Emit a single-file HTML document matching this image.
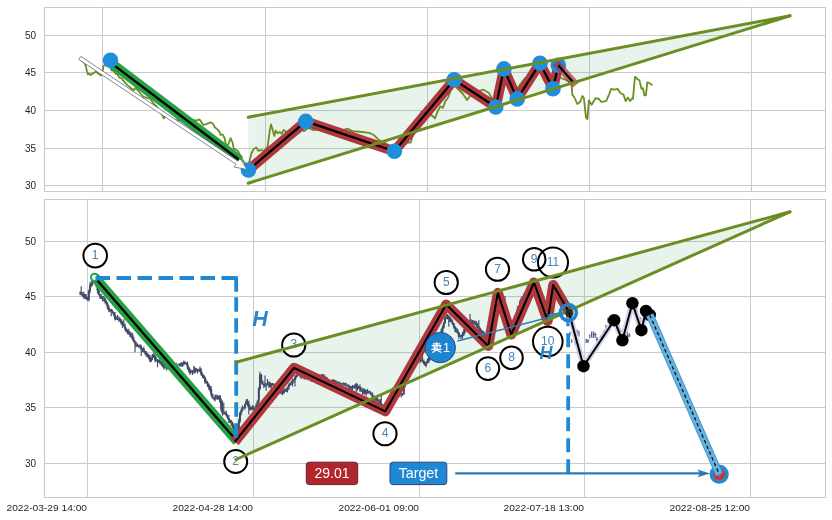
<!DOCTYPE html>
<html><head><meta charset="utf-8"><style>
html,body{margin:0;padding:0;background:#fff;}
svg{display:block;font-family:"Liberation Sans", sans-serif;filter:blur(0.35px);}
</style></head><body>
<svg width="832" height="520" viewBox="0 0 832 520">
<rect x="0" y="0" width="832" height="520" fill="#fff"/>
<rect x="44.5" y="7.5" width="781.0" height="184.0" fill="#fff" stroke="#c8c8c8" stroke-width="1"/>
<line x1="44.5" y1="35.5" x2="825.5" y2="35.5" stroke="#cbcbcb" stroke-width="1"/>
<line x1="44.5" y1="72.5" x2="825.5" y2="72.5" stroke="#cbcbcb" stroke-width="1"/>
<line x1="44.5" y1="110.5" x2="825.5" y2="110.5" stroke="#cbcbcb" stroke-width="1"/>
<line x1="44.5" y1="148.5" x2="825.5" y2="148.5" stroke="#cbcbcb" stroke-width="1"/>
<line x1="44.5" y1="185.5" x2="825.5" y2="185.5" stroke="#cbcbcb" stroke-width="1"/>
<line x1="102.50" y1="7.5" x2="102.50" y2="191.5" stroke="#cbcbcb" stroke-width="1"/>
<line x1="265.50" y1="7.5" x2="265.50" y2="191.5" stroke="#cbcbcb" stroke-width="1"/>
<line x1="427.50" y1="7.5" x2="427.50" y2="191.5" stroke="#cbcbcb" stroke-width="1"/>
<line x1="589.50" y1="7.5" x2="589.50" y2="191.5" stroke="#cbcbcb" stroke-width="1"/>
<line x1="751.50" y1="7.5" x2="751.50" y2="191.5" stroke="#cbcbcb" stroke-width="1"/>
<text x="36" y="39.1" text-anchor="end" font-size="10" fill="#262626">50</text>
<text x="36" y="76.1" text-anchor="end" font-size="10" fill="#262626">45</text>
<text x="36" y="114.1" text-anchor="end" font-size="10" fill="#262626">40</text>
<text x="36" y="152.1" text-anchor="end" font-size="10" fill="#262626">35</text>
<text x="36" y="189.1" text-anchor="end" font-size="10" fill="#262626">30</text>
<polygon points="248.20,117.20 790.00,15.80 248.20,183.20" fill="#3aa05a" fill-opacity="0.12"/>
<polyline points="79.30,59.10 81.70,60.60 84.10,62.50 85.60,65.40 87.00,71.20 88.00,74.50 89.40,73.60 90.90,75.00 92.30,73.60 94.20,72.60 96.20,71.60 98.10,73.60 99.50,74.50 101.00,75.50 102.40,74.00 102.90,69.20 103.40,66.30 104.30,65.40 107.00,64.00 110.00,64.40 111.00,69.20 112.00,70.70 113.50,70.70 115.40,73.60 117.30,74.00 118.80,76.90 120.20,77.90 122.10,78.80 123.10,80.80 124.50,81.70 126.00,83.70 127.90,85.60 129.80,87.00 131.70,88.90 133.80,90.10 135.80,87.70 139.60,92.50 143.50,96.80 147.30,97.80 150.70,99.20 153.00,103.00 157.00,107.00 160.00,112.00 162.70,115.60 163.70,118.50 166.00,116.00 170.00,118.00 175.00,120.00 180.00,120.50 186.00,120.00 192.50,120.00 196.30,120.60 199.40,119.40 201.30,121.90 203.10,125.00 206.90,123.80 210.60,122.30 213.10,123.80 215.00,127.50 217.50,129.40 219.40,131.90 220.60,135.00 222.50,134.40 224.40,137.50 226.30,146.30 228.10,145.00 230.60,138.10 232.50,142.50 233.80,148.80 235.60,149.40 238.10,151.30 240.00,155.00 242.50,160.00 245.00,163.00 247.00,166.00 249.40,161.50 251.40,153.50 253.50,149.40 256.20,147.40 258.20,150.80 260.90,150.10 264.20,150.80 267.60,146.70 269.60,131.90 271.00,124.50 272.30,128.60 274.30,136.00 275.70,130.60 277.70,133.30 279.70,131.90 281.70,133.90 283.70,129.90 288.00,133.00 293.80,136.00 296.50,134.60 299.20,132.60 301.90,129.90 303.90,131.20 308.00,128.00 313.00,130.00 320.00,129.50 330.60,130.00 340.30,131.00 347.30,128.60 352.40,131.10 362.40,132.00 369.20,132.80 374.20,135.30 379.30,140.40 385.00,143.00 394.10,149.70 398.00,144.00 402.00,139.30 405.90,142.60 410.80,142.60 413.70,132.50 418.60,125.80 421.10,112.00 426.00,116.00 431.50,115.00 435.00,118.40 437.60,111.50 440.20,106.30 442.80,108.00 445.40,101.10 448.00,97.70 450.60,90.80 454.00,85.00 457.00,88.00 460.00,91.00 463.00,94.00 467.00,100.00 471.00,95.00 476.00,92.00 483.10,89.60 488.90,93.10 493.00,100.00 496.00,103.00 499.00,90.00 502.00,75.00 506.00,80.00 510.00,90.00 514.00,95.00 519.00,86.00 525.00,78.00 530.00,76.00 535.00,73.00 540.00,70.00 544.00,80.00 548.00,84.00 551.00,80.00 554.00,72.00 557.00,75.00 561.00,78.00 566.00,80.00 571.50,83.10 572.30,94.60 574.40,97.50 577.30,104.00 580.20,101.80 582.40,96.00 583.80,97.50 586.00,117.70 587.40,119.20 588.90,100.40 591.70,104.70 595.40,98.20 599.00,99.00 601.10,101.80 606.20,101.10 609.00,94.60 611.20,88.90 614.10,89.60 617.70,88.90 620.60,93.20 623.50,94.60 625.70,101.10 627.80,97.50 630.00,101.10 632.20,98.20 632.90,99.00 635.00,76.60 637.90,79.50 639.40,80.20 641.50,88.90 643.00,88.10 644.40,95.40 645.90,95.40 647.30,82.40 649.50,83.10 652.40,85.30" fill="none" stroke="#6b8e23" stroke-width="1.8" stroke-linejoin="round"/>
<line x1="110.5" y1="62.6" x2="240" y2="160.5" stroke="#26a245" stroke-width="9.8"/>
<line x1="110.5" y1="62.6" x2="240" y2="160.5" stroke="#000" stroke-width="2.2"/>
<polyline points="248.40,170.00 305.80,121.40 394.40,151.30 454.20,79.80 495.80,107.00 503.90,68.90 517.20,98.90 540.00,63.30 553.00,88.80 558.30,65.30" fill="none" stroke="#ae383d" stroke-width="10" stroke-linejoin="round"/>
<polyline points="248.40,170.00 305.80,121.40 394.40,151.30 454.20,79.80 495.80,107.00 503.90,68.90 517.20,98.90 540.00,63.30 553.00,88.80 558.30,65.30" fill="none" stroke="#000" stroke-width="2.2" stroke-linejoin="round"/>
<circle cx="110.5" cy="60.2" r="7.8" fill="#1f8edb"/>
<circle cx="248.4" cy="170" r="7.8" fill="#1f8edb"/>
<circle cx="305.8" cy="121.4" r="7.8" fill="#1f8edb"/>
<circle cx="394.4" cy="151.3" r="7.8" fill="#1f8edb"/>
<circle cx="454.2" cy="79.8" r="7.8" fill="#1f8edb"/>
<circle cx="495.8" cy="107" r="7.8" fill="#1f8edb"/>
<circle cx="503.9" cy="68.9" r="7.8" fill="#1f8edb"/>
<circle cx="517.2" cy="98.9" r="7.8" fill="#1f8edb"/>
<circle cx="540" cy="63.3" r="7.8" fill="#1f8edb"/>
<circle cx="553" cy="88.8" r="7.8" fill="#1f8edb"/>
<circle cx="558.3" cy="65.3" r="7.8" fill="#1f8edb"/>
<line x1="558.3" y1="65.3" x2="573.2" y2="82.2" stroke="#ae383d" stroke-opacity="0.72" stroke-width="8" stroke-linecap="square"/>
<line x1="558.3" y1="65.3" x2="573.2" y2="82.2" stroke="#000" stroke-width="2.2"/>
<polygon points="78.80,59.40 236.02,164.24 234.13,167.07 247.00,169.40 239.90,158.42 238.01,161.24 80.80,56.40" fill="#fff" stroke="#5a6070" stroke-width="0.75" stroke-linejoin="miter"/>
<line x1="248.2" y1="117.2" x2="790" y2="15.8" stroke="#6b8e23" stroke-width="3" stroke-linecap="round"/>
<line x1="248.2" y1="183.2" x2="790" y2="15.8" stroke="#6b8e23" stroke-width="3" stroke-linecap="round"/>
<rect x="44.5" y="199.5" width="781.0" height="298.0" fill="#fff" stroke="#c8c8c8" stroke-width="1"/>
<line x1="44.5" y1="241.5" x2="825.5" y2="241.5" stroke="#cbcbcb" stroke-width="1"/>
<line x1="44.5" y1="296.5" x2="825.5" y2="296.5" stroke="#cbcbcb" stroke-width="1"/>
<line x1="44.5" y1="352.5" x2="825.5" y2="352.5" stroke="#cbcbcb" stroke-width="1"/>
<line x1="44.5" y1="407.5" x2="825.5" y2="407.5" stroke="#cbcbcb" stroke-width="1"/>
<line x1="44.5" y1="463.5" x2="825.5" y2="463.5" stroke="#cbcbcb" stroke-width="1"/>
<line x1="87.50" y1="199.5" x2="87.50" y2="497.5" stroke="#cbcbcb" stroke-width="1"/>
<line x1="253.50" y1="199.5" x2="253.50" y2="497.5" stroke="#cbcbcb" stroke-width="1"/>
<line x1="419.50" y1="199.5" x2="419.50" y2="497.5" stroke="#cbcbcb" stroke-width="1"/>
<line x1="584.50" y1="199.5" x2="584.50" y2="497.5" stroke="#cbcbcb" stroke-width="1"/>
<line x1="750.50" y1="199.5" x2="750.50" y2="497.5" stroke="#cbcbcb" stroke-width="1"/>
<text x="36" y="245.1" text-anchor="end" font-size="10" fill="#262626">50</text>
<text x="36" y="300.1" text-anchor="end" font-size="10" fill="#262626">45</text>
<text x="36" y="356.1" text-anchor="end" font-size="10" fill="#262626">40</text>
<text x="36" y="411.1" text-anchor="end" font-size="10" fill="#262626">35</text>
<text x="36" y="467.1" text-anchor="end" font-size="10" fill="#262626">30</text>
<text x="6.5" y="510.9" font-size="9.7" textLength="80.5" lengthAdjust="spacingAndGlyphs" fill="#262626">2022-03-29 14:00</text>
<text x="172.5" y="510.9" font-size="9.7" textLength="80.5" lengthAdjust="spacingAndGlyphs" fill="#262626">2022-04-28 14:00</text>
<text x="338.5" y="510.9" font-size="9.7" textLength="80.5" lengthAdjust="spacingAndGlyphs" fill="#262626">2022-06-01 09:00</text>
<text x="503.5" y="510.9" font-size="9.7" textLength="80.5" lengthAdjust="spacingAndGlyphs" fill="#262626">2022-07-18 13:00</text>
<text x="669.5" y="510.9" font-size="9.7" textLength="80.5" lengthAdjust="spacingAndGlyphs" fill="#262626">2022-08-25 12:00</text>
<polygon points="236.00,362.20 790.00,211.80 236.00,459.50" fill="#3aa05a" fill-opacity="0.12"/>
<path d="M80.0,291.6V295.1 M81.2,286.2V295.6 M82.5,292.3V296.8 M83.8,291.4V299.1 M85.0,294.0V298.4 M86.2,294.1V299.6 M87.5,296.8V300.8 M88.8,289.5V301.4 M90.0,282.4V293.3 M91.2,281.0V287.2 M92.5,279.1V286.1 M93.8,276.7V283.0 M95.0,276.2V280.9 M96.2,275.6V287.3 M97.5,283.5V293.6 M98.8,288.4V295.2 M100.0,294.0V298.8 M101.2,293.7V299.1 M102.5,295.9V301.3 M103.8,295.9V301.5 M105.0,297.5V303.2 M106.2,300.0V305.2 M107.5,302.0V309.5 M108.8,305.0V312.3 M110.0,308.9V311.8 M111.2,308.8V316.2 M112.5,309.8V313.5 M113.8,311.8V316.3 M115.0,312.0V320.4 M116.2,316.6V319.9 M117.5,315.1V320.1 M118.8,316.5V321.9 M120.0,317.5V321.2 M121.2,319.0V324.6 M122.5,321.0V327.9 M123.8,319.3V326.8 M125.0,323.4V330.4 M126.2,327.4V332.6 M127.5,329.3V334.3 M128.8,328.8V334.7 M130.0,331.6V336.9 M131.2,332.5V338.1 M132.5,332.7V340.3 M133.8,336.8V342.6 M135.0,340.3V352.2 M136.2,341.7V347.3 M137.5,343.4V347.1 M138.8,344.8V347.8 M140.0,344.6V348.5 M141.2,344.8V356.1 M142.5,348.0V352.0 M143.8,346.7V352.7 M145.0,350.7V354.8 M146.2,351.1V356.7 M147.5,352.8V357.6 M148.8,354.0V359.6 M150.0,355.0V362.3 M151.2,357.1V361.9 M152.5,354.0V360.1 M153.8,352.4V357.9 M155.0,354.7V362.3 M156.2,356.8V361.6 M157.5,359.0V367.2 M158.8,359.5V362.9 M160.0,358.6V364.2 M161.2,361.1V365.7 M162.5,360.5V367.3 M163.8,362.8V369.5 M165.0,365.7V368.2 M166.2,366.9V370.3 M167.5,365.0V369.5 M168.8,363.3V367.5 M170.0,363.6V366.4 M171.2,362.9V370.3 M172.5,362.2V367.2 M173.8,363.8V369.9 M175.0,365.5V369.1 M176.2,362.7V369.3 M177.5,364.4V366.1 M178.8,363.6V365.8 M180.0,363.3V366.6 M181.2,361.9V366.7 M182.5,362.4V367.1 M183.8,360.5V365.8 M185.0,361.5V364.2 M186.2,362.5V365.1 M187.5,361.5V369.7 M188.8,366.3V372.4 M190.0,368.8V375.0 M191.2,369.9V373.3 M192.5,369.9V375.1 M193.8,365.8V373.6 M195.0,367.2V373.7 M196.2,368.1V371.8 M197.5,368.7V373.4 M198.8,368.8V371.7 M200.0,366.6V372.5 M201.2,368.3V375.9 M202.5,372.7V378.0 M203.8,375.0V379.0 M205.0,376.6V383.8 M206.2,379.3V383.5 M207.5,380.9V386.9 M208.8,383.4V390.1 M210.0,385.4V391.8 M211.2,386.2V396.5 M212.5,393.6V398.8 M213.8,397.4V400.3 M215.0,394.8V401.5 M216.2,394.4V399.5 M217.5,395.3V399.7 M218.8,395.5V399.8 M220.0,395.1V403.0 M221.2,398.5V412.1 M222.5,400.4V415.8 M223.8,402.7V414.7 M225.0,411.6V414.6 M226.2,410.8V416.4 M227.5,414.3V418.9 M228.8,415.1V423.1 M230.0,419.4V422.9 M231.2,419.7V426.1 M232.5,421.5V427.9 M233.8,423.5V431.0 M235.0,429.1V437.3 M236.2,430.7V441.8 M237.5,427.1V439.8 M238.8,418.6V432.5 M240.0,411.9V423.0 M241.2,408.4V415.2 M242.5,405.2V411.6 M243.8,406.8V408.7 M245.0,403.5V409.4 M246.2,399.2V404.7 M247.5,399.1V406.3 M248.8,400.7V414.4 M250.0,405.6V410.3 M251.2,406.8V410.5 M252.5,404.9V409.8 M253.8,406.1V413.1 M255.0,409.3V413.7 M256.2,403.5V412.9 M257.5,400.3V407.9 M258.8,387.1V404.1 M260.0,371.7V389.9 M261.2,373.9V383.4 M262.5,380.3V384.7 M263.8,383.4V388.1 M265.0,375.6V386.8 M266.2,383.0V390.8 M267.5,379.0V385.5 M268.8,381.4V387.7 M270.0,381.7V387.5 M271.2,383.0V388.8 M272.5,382.9V385.7 M273.8,383.2V386.5 M275.0,384.5V389.6 M276.2,385.1V389.7 M277.5,387.7V391.1 M278.8,388.7V392.0 M280.0,386.3V393.8 M281.2,390.2V394.3 M282.5,390.2V395.2 M283.8,387.5V394.1 M285.0,389.1V391.8 M286.2,388.0V392.0 M287.5,386.4V392.4 M288.8,383.4V390.1 M290.0,382.4V385.9 M291.2,380.7V385.1 M292.5,378.3V386.4 M293.8,379.1V382.2 M295.0,375.3V386.5 M296.2,375.1V378.5 M297.5,372.5V376.8 M298.8,372.4V374.5 M300.0,372.3V377.2 M301.2,372.8V379.1 M302.5,374.1V378.1 M303.8,374.5V379.3 M305.0,376.5V379.7 M306.2,374.7V378.4 M307.5,375.0V380.2 M308.8,374.4V379.9 M310.0,377.2V380.1 M311.2,376.9V382.0 M312.5,375.2V381.6 M313.8,374.9V378.5 M315.0,373.9V379.1 M316.2,375.6V380.1 M317.5,374.6V378.8 M318.8,373.9V383.7 M320.0,374.9V378.4 M321.2,374.1V376.7 M322.5,374.2V378.1 M323.8,373.9V379.4 M325.0,375.6V381.9 M326.2,376.7V383.8 M327.5,377.6V384.0 M328.8,379.8V383.9 M330.0,381.4V385.7 M331.2,382.0V384.3 M332.5,379.2V383.9 M333.8,379.2V384.9 M335.0,380.0V385.1 M336.2,380.6V385.6 M337.5,381.5V385.9 M338.8,381.3V384.2 M340.0,382.2V386.1 M341.2,382.7V384.7 M342.5,382.7V386.6 M343.8,382.3V385.4 M345.0,383.0V385.9 M346.2,382.8V387.0 M347.5,384.5V386.5 M348.8,384.2V388.8 M350.0,385.8V389.7 M351.2,386.1V390.2 M352.5,385.1V393.3 M353.8,385.4V388.6 M355.0,383.9V388.5 M356.2,382.8V395.3 M357.5,383.8V390.8 M358.8,386.1V389.0 M360.0,384.6V391.9 M361.2,387.0V391.4 M362.5,388.4V394.4 M363.8,388.0V394.6 M365.0,389.1V394.2 M366.2,390.0V396.1 M367.5,389.1V393.8 M368.8,390.5V393.8 M370.0,391.0V393.7 M371.2,392.4V395.4 M372.5,392.5V398.6 M373.8,395.3V401.7 M375.0,396.1V400.8 M376.2,395.5V402.6 M377.5,396.9V401.8 M378.8,399.7V402.9 M380.0,399.0V404.5 M381.2,395.0V407.2 M382.5,403.8V409.2 M383.8,406.2V414.5 M385.0,405.2V409.3 M386.2,404.8V410.5 M387.5,398.2V407.0 M388.8,397.8V403.1 M390.0,394.1V400.7 M391.2,390.5V401.1 M392.5,387.5V394.9 M393.8,388.5V392.1 M395.0,388.8V394.3 M396.2,390.6V395.5 M397.5,393.7V396.9 M398.8,392.8V397.5 M400.0,392.8V395.4 M401.2,393.0V397.4 M402.5,393.1V395.9 M403.8,385.4V394.9 M405.0,377.6V387.5 M406.2,376.8V381.2 M407.5,374.8V380.9 M408.8,371.8V377.9 M410.0,370.7V376.5 M411.2,364.5V374.4 M412.5,356.8V368.5 M413.8,351.4V361.3 M415.0,352.1V356.9 M416.2,351.9V355.9 M417.5,352.5V359.9 M418.8,355.8V360.7 M420.0,357.3V362.9 M421.2,357.7V361.7 M422.5,354.2V362.4 M423.8,359.5V364.6 M425.0,361.7V365.9 M426.2,361.8V367.3 M427.5,358.6V363.6 M428.8,355.7V363.1 M430.0,354.3V360.8 M431.2,350.4V356.3 M432.5,346.2V353.0 M433.8,345.9V350.6 M435.0,343.7V348.1 M436.2,342.5V351.9 M437.5,339.2V344.5 M438.8,334.3V342.7 M440.0,335.0V339.4 M441.2,328.7V338.3 M442.5,325.6V333.8 M443.8,321.8V328.5 M445.0,316.7V323.8 M446.2,314.2V318.9 M447.5,313.9V319.5 M448.8,315.3V326.8 M450.0,316.5V321.9 M451.2,317.8V322.6 M452.5,319.4V325.1 M453.8,322.7V328.6 M455.0,325.8V331.9 M456.2,327.5V332.8 M457.5,328.5V333.7 M458.8,331.9V338.7 M460.0,335.1V337.2 M461.2,334.2V339.1 M462.5,332.3V338.6 M463.8,329.0V336.0 M465.0,328.5V333.6 M466.2,325.1V331.5 M467.5,323.9V328.9 M468.8,321.0V327.3 M470.0,314.1V326.9 M471.2,319.3V325.8 M472.5,319.9V324.9 M473.8,320.2V324.7 M475.0,320.8V324.7 M476.2,321.1V327.2 M477.5,322.8V328.5 M478.8,320.3V330.3 M480.0,327.3V332.2 M481.2,329.2V333.3 M482.5,330.5V333.8 M483.8,330.9V336.7 M485.0,332.7V340.3 M486.2,336.1V343.5 M487.5,338.3V345.4 M488.8,338.4V345.6 M490.0,331.2V340.4 M491.2,314.0V335.1 M492.5,315.8V325.8 M493.8,306.1V319.1 M495.0,299.9V311.3 M496.2,294.8V302.6 M497.5,291.6V298.6 M498.8,293.0V296.3 M500.0,292.6V298.0 M501.2,293.8V298.9 M502.5,296.7V302.9 M503.8,300.2V309.2 M505.0,296.0V313.6 M506.2,311.1V320.0 M507.5,316.4V327.1 M508.8,323.6V327.2 M510.0,323.6V333.8 M511.2,327.9V333.7 M512.5,327.7V332.0 M513.8,324.3V330.5 M515.0,318.6V327.1 M516.2,312.4V319.8 M517.5,306.3V315.6 M518.8,304.9V310.5 M520.0,300.3V308.3 M521.2,297.7V308.3 M522.5,295.7V301.6 M523.8,293.6V297.3 M525.0,292.2V298.5 M526.2,291.0V296.9 M527.5,286.9V294.6 M528.8,287.0V290.1 M530.0,286.6V290.3 M531.2,282.3V288.1 M532.5,282.3V286.5 M533.8,279.9V287.0 M535.0,280.2V287.3 M536.2,286.1V296.5 M537.5,291.4V298.2 M538.8,295.3V305.4 M540.0,301.2V307.8 M541.2,305.1V311.3 M542.5,307.5V315.3 M543.8,311.9V317.6 M545.0,312.7V325.3 M546.2,313.3V318.0 M547.5,310.2V323.4 M548.8,304.1V311.9 M550.0,299.8V308.2 M551.2,289.8V304.0 M552.5,289.1V293.0 M553.8,290.2V296.5 M555.0,291.0V296.1 M556.2,293.3V297.9 M557.5,296.3V299.5 M558.8,296.3V300.8 M560.0,298.1V304.3 M561.2,300.5V307.7 M562.5,303.3V308.7 M563.8,304.7V310.6 M565.0,305.0V311.2 M566.2,309.4V314.0" stroke="#3f4b66" stroke-width="1.15" fill="none"/>
<path d="M81.2,292.5V293.8 M83.8,294.3V297.1 M86.2,296.6V298.7 M87.5,298.7V300.1 M88.8,291.0V300.1 M90.0,284.9V291.0 M91.2,283.7V284.9 M92.5,280.6V283.7 M93.8,278.9V280.6 M96.2,278.4V285.6 M97.5,285.6V290.6 M98.8,290.6V294.7 M100.0,294.7V296.4 M101.2,296.4V298.4 M105.0,298.6V301.5 M106.2,301.5V303.8 M107.5,303.8V307.4 M108.8,307.4V309.6 M111.2,309.7V311.2 M112.5,311.2V313.0 M113.8,313.0V314.9 M115.0,314.9V318.7 M120.0,319.0V320.3 M121.2,320.3V323.5 M122.5,323.5V325.4 M123.8,325.4V326.3 M125.0,326.3V328.8 M126.2,328.8V331.6 M128.8,331.3V334.0 M130.0,334.0V335.2 M132.5,335.0V339.3 M133.8,339.3V341.7 M135.0,341.7V343.5 M136.2,343.5V344.4 M137.5,344.4V346.0 M141.2,346.6V349.5 M142.5,348.5V349.5 M143.8,348.5V351.4 M145.0,351.4V352.9 M146.2,352.9V354.8 M147.5,354.8V355.8 M148.8,355.8V357.9 M150.0,357.9V361.1 M151.2,357.9V361.1 M152.5,354.7V357.9 M153.8,354.7V355.7 M155.0,355.7V359.4 M156.2,359.4V360.7 M158.8,360.0V361.6 M161.2,361.7V363.3 M162.5,363.3V364.8 M163.8,364.8V367.3 M167.5,366.4V367.7 M168.8,365.1V366.4 M172.5,364.5V365.4 M173.8,364.5V367.3 M176.2,365.3V367.0 M180.0,364.5V365.5 M181.2,363.5V365.5 M183.8,362.0V364.1 M185.0,362.0V363.0 M186.2,363.0V363.9 M187.5,363.9V367.6 M188.8,367.6V369.4 M190.0,369.4V372.4 M195.0,369.8V371.8 M196.2,369.8V371.3 M198.8,369.5V370.5 M200.0,369.5V370.7 M201.2,370.7V373.9 M202.5,373.9V375.6 M203.8,375.6V377.8 M205.0,377.8V382.0 M207.5,382.5V384.4 M208.8,384.4V387.2 M210.0,387.2V388.9 M211.2,388.9V394.2 M212.5,394.2V398.3 M215.0,397.2V398.9 M216.2,397.2V398.3 M217.5,397.2V398.3 M218.8,396.3V397.2 M220.0,396.3V401.2 M221.2,401.2V409.6 M222.5,409.6V413.5 M226.2,412.9V415.2 M227.5,415.2V417.8 M228.8,417.8V420.1 M230.0,420.1V421.6 M231.2,421.6V423.3 M232.5,423.3V426.4 M233.8,426.4V430.2 M235.0,430.2V436.1 M236.2,433.6V436.1 M237.5,429.9V433.6 M238.8,421.2V429.9 M240.0,412.8V421.2 M241.2,410.5V412.8 M242.5,407.6V410.5 M245.0,404.2V407.6 M246.2,401.2V404.2 M247.5,401.2V403.6 M248.8,403.6V407.1 M250.0,407.1V409.2 M251.2,407.4V409.2 M253.8,407.4V410.6 M256.2,405.0V410.8 M257.5,401.3V405.0 M258.8,388.6V401.3 M260.0,374.5V388.6 M261.2,374.5V381.2 M262.5,381.2V384.2 M263.8,384.2V385.2 M265.0,384.0V385.2 M268.8,383.8V384.9 M270.0,383.8V386.4 M271.2,383.5V386.4 M272.5,383.5V384.7 M275.0,385.4V387.1 M276.2,387.1V388.4 M277.5,388.4V390.1 M278.8,389.3V390.1 M280.0,389.3V392.7 M283.8,390.1V392.9 M286.2,389.9V390.7 M287.5,387.5V389.9 M288.8,385.1V387.5 M290.0,383.6V385.1 M292.5,380.8V383.5 M295.0,377.3V380.1 M296.2,376.0V377.3 M297.5,373.1V376.0 M300.0,373.5V374.3 M301.2,374.3V376.4 M308.8,377.3V378.9 M312.5,376.7V379.0 M316.2,376.2V377.5 M317.5,376.7V377.5 M325.0,377.0V379.0 M326.2,379.0V381.2 M328.8,380.5V382.5 M332.5,380.1V383.0 M333.8,380.1V382.4 M335.0,381.4V382.4 M336.2,381.4V382.6 M348.8,385.7V387.6 M352.5,386.2V387.5 M353.8,386.2V387.6 M355.0,386.4V387.6 M356.2,385.5V386.4 M357.5,385.5V388.4 M358.8,387.2V388.4 M360.0,387.2V389.6 M362.5,389.4V391.7 M363.8,390.4V391.7 M365.0,390.4V393.1 M366.2,392.2V393.1 M370.0,391.5V392.9 M371.2,392.9V394.8 M372.5,394.8V397.9 M373.8,397.9V399.0 M375.0,399.0V400.0 M376.2,398.2V400.0 M377.5,398.2V401.0 M380.0,401.3V403.1 M381.2,403.1V405.2 M382.5,405.2V406.9 M383.8,406.9V408.1 M386.2,405.8V408.8 M387.5,401.0V405.8 M388.8,398.6V401.0 M390.0,396.6V398.6 M391.2,393.2V396.6 M392.5,390.3V393.2 M395.0,390.1V392.9 M396.2,392.9V394.5 M398.8,394.1V395.2 M403.8,386.9V393.9 M405.0,379.1V386.9 M407.5,376.3V378.6 M408.8,374.2V376.3 M410.0,373.1V374.2 M411.2,366.2V373.1 M412.5,359.3V366.2 M413.8,353.0V359.3 M415.0,353.0V354.8 M417.5,355.3V358.1 M420.0,358.9V360.1 M421.2,360.1V360.9 M423.8,360.9V363.5 M425.0,363.5V364.8 M426.2,362.6V364.8 M427.5,360.5V362.6 M428.8,358.2V360.5 M430.0,355.1V358.2 M431.2,351.8V355.1 M432.5,348.5V351.8 M433.8,347.4V348.5 M435.0,346.3V347.4 M436.2,343.4V346.3 M437.5,341.4V343.4 M438.8,336.7V341.4 M440.0,335.9V336.7 M441.2,331.4V335.9 M442.5,327.5V331.4 M443.8,323.0V327.5 M445.0,318.3V323.0 M446.2,316.9V318.3 M447.5,316.0V316.9 M448.8,316.0V319.3 M450.0,319.3V320.5 M451.2,320.5V322.0 M452.5,322.0V323.7 M453.8,323.7V327.1 M455.0,327.1V329.3 M457.5,329.8V332.5 M458.8,332.5V336.4 M462.5,334.4V336.3 M463.8,331.1V334.4 M465.0,329.0V331.1 M466.2,327.6V329.0 M467.5,325.4V327.6 M470.0,322.2V325.3 M471.2,322.2V324.1 M473.8,323.1V323.9 M476.2,323.6V324.9 M477.5,324.9V326.3 M478.8,326.3V328.0 M480.0,328.0V331.0 M481.2,331.0V332.6 M483.8,332.9V335.1 M485.0,335.1V338.3 M486.2,338.3V340.9 M487.5,340.9V343.4 M488.8,339.9V343.4 M490.0,332.4V339.9 M491.2,324.6V332.4 M492.5,317.8V324.6 M493.8,308.9V317.8 M495.0,300.9V308.9 M496.2,297.0V300.9 M497.5,294.1V297.0 M500.0,294.3V296.1 M501.2,296.1V297.5 M502.5,297.5V302.3 M503.8,302.3V306.7 M505.0,306.7V313.0 M506.2,313.0V318.8 M507.5,318.8V324.6 M508.8,324.6V326.2 M510.0,326.2V332.2 M511.2,329.9V332.2 M513.8,325.9V329.6 M515.0,319.2V325.9 M516.2,315.0V319.2 M517.5,309.2V315.0 M518.8,307.1V309.2 M520.0,301.6V307.1 M521.2,298.8V301.6 M522.5,296.3V298.8 M525.0,294.8V296.5 M526.2,292.7V294.8 M527.5,289.2V292.7 M530.0,287.5V288.5 M531.2,285.3V287.5 M532.5,284.0V285.3 M533.8,282.9V284.0 M535.0,282.9V286.6 M536.2,286.6V294.0 M537.5,294.0V296.4 M538.8,296.4V303.5 M540.0,303.5V306.8 M541.2,306.8V310.1 M542.5,310.1V313.4 M543.8,313.4V315.3 M546.2,316.0V316.8 M547.5,311.1V316.8 M548.8,305.9V311.1 M550.0,301.1V305.9 M551.2,292.4V301.1 M552.5,290.9V292.4 M553.8,290.9V292.0 M555.0,292.0V295.6 M556.2,295.6V297.2 M558.8,297.8V300.0 M560.0,300.0V301.9 M561.2,301.9V306.2 M563.8,306.3V307.6 M565.0,307.6V310.5 M566.2,310.5V312.4" stroke="#3f4b66" stroke-width="2.0" fill="none"/>
<path d="M570.0,332.0V335.4 M571.8,339.3V343.0 M575.4,337.3V344.4 M577.2,329.7V335.9 M579.0,330.9V336.6 M580.8,349.3V354.9 M582.6,362.6V367.2 M581.4,365.1H583.8 M586.2,338.7V343.0 M588.0,339.3V342.9 M586.8,340.9H589.2 M589.8,334.3V338.5 M591.6,331.4V337.4 M593.4,331.4V337.9 M595.2,332.6V337.9 M594.0,334.7H596.4 M597.0,337.1V342.0 M595.8,339.3H598.2 M600.6,335.8V341.5 M599.4,339.6H601.8 M602.4,333.4V340.2 M601.2,337.6H603.6 M604.2,329.8V333.1 M603.0,331.9H605.4 M606.0,324.7V328.8 M607.8,317.7V322.4 M609.6,318.4V325.7 M611.4,318.5V325.2 M610.2,322.4H612.6 M613.2,315.6V323.2 M615.0,319.3V326.1 M613.8,323.6H616.2 M616.8,324.6V329.7 M618.6,325.2V330.1 M617.4,328.1H619.8 M620.4,328.4V333.3 M619.2,330.5H621.6 M622.2,334.7V341.9 M621.0,337.7H623.4 M624.0,332.2V335.9 M625.8,332.2V339.8 M627.6,331.6V339.4 M626.4,336.3H628.8 M629.4,333.6V336.8 M628.2,336.0H630.6 M631.2,308.4V314.1 M633.0,300.4V306.9 M631.8,303.8H634.2 M634.8,303.1V310.9 M636.6,307.1V312.0 M638.4,318.0V325.4 M637.2,321.5H639.6 M640.2,317.1V325.1 M642.0,327.4V331.3 M643.8,313.1V318.7 M645.6,309.2V316.3 M647.4,310.2V313.9 M649.2,311.7V315.7" stroke="#56618a" stroke-width="1.2" fill="none"/>
<line x1="94.6" y1="277.3" x2="237.3" y2="441.5" stroke="#26a245" stroke-width="9.8"/>
<line x1="94.6" y1="277.3" x2="237.3" y2="441.5" stroke="#000" stroke-width="2.2"/>
<circle cx="94.6" cy="277.3" r="3.6" fill="#fff" stroke="#26a245" stroke-width="2"/>
<polyline points="234.80,441.80 294.00,367.80 385.30,411.30 446.20,304.50 488.20,346.00 497.90,292.80 511.30,334.50 534.00,282.50 547.70,321.00 553.20,285.00 569.20,312.30" fill="none" stroke="#ae383d" stroke-width="10" stroke-linejoin="round"/>
<polyline points="234.80,441.80 294.00,367.80 385.30,411.30 446.20,304.50 488.20,346.00 497.90,292.80 511.30,334.50 534.00,282.50 547.70,321.00 553.20,285.00 569.20,312.30" fill="none" stroke="#000" stroke-width="2.0" stroke-linejoin="round"/>
<line x1="95.5" y1="278" x2="236.2" y2="278" stroke="#1f88d2" stroke-width="3.8" stroke-dasharray="14.5,6.5"/>
<line x1="236.2" y1="276.3" x2="236.2" y2="444" stroke="#1f88d2" stroke-width="3.8" stroke-dasharray="15.5,5.5,14.5,6.5,14.5,6.5,14.5,6.5,14.5,6.5,14.5,6.5,14.5,6.5,14.5,6.5"/>
<line x1="568.2" y1="312.3" x2="568.2" y2="474" stroke="#1f88d2" stroke-width="3.8" stroke-dasharray="14,7"/>
<line x1="457.5" y1="341" x2="560" y2="314.5" stroke="#2a7db5" stroke-width="1.5"/>
<polygon points="547,318.5 562,312.5 549,314" fill="#1f88d2"/>
<line x1="549" y1="317" x2="561" y2="313.8" stroke="#1f88d2" stroke-width="4"/>
<polyline points="568.90,312.30 583.50,366.20 614.20,320.20 622.40,340.30 632.40,303.20 641.40,330.20 646.00,311.00 649.80,315.00" fill="none" stroke="#c9cde6" stroke-width="6" stroke-linejoin="round" opacity="0.8"/>
<polyline points="568.90,312.30 583.50,366.20 614.20,320.20 622.40,340.30 632.40,303.20 641.40,330.20 646.00,311.00 649.80,315.00" fill="none" stroke="#000" stroke-width="2" stroke-linejoin="round"/>
<circle cx="583.5" cy="366.2" r="6.2" fill="#000"/>
<circle cx="614.2" cy="320.2" r="6.2" fill="#000"/>
<circle cx="622.4" cy="340.3" r="6.2" fill="#000"/>
<circle cx="632.4" cy="303.2" r="6.2" fill="#000"/>
<circle cx="641.4" cy="330.2" r="6.2" fill="#000"/>
<circle cx="646.0" cy="311.0" r="6.2" fill="#000"/>
<circle cx="649.8" cy="315.0" r="6.2" fill="#000"/>
<circle cx="719.2" cy="474.2" r="9.6" fill="#2a88c6"/>
<circle cx="719.2" cy="474.2" r="4.0" fill="none" stroke="#d83030" stroke-width="3.6"/>
<line x1="649.8" y1="315" x2="719.2" y2="474.2" stroke="#4596cf" stroke-width="8"/>
<line x1="649.8" y1="315" x2="719.2" y2="474.2" stroke="#66b3e3" stroke-width="6"/>
<line x1="649.8" y1="315" x2="719.2" y2="474.2" stroke="#111" stroke-width="1.3" stroke-dasharray="3.6,2.6"/>
<line x1="455.2" y1="473.4" x2="702" y2="473.4" stroke="#2a7db8" stroke-width="2.4"/>
<polygon points="710.2,473.4 697.5,469.6 700,473.4 697.5,477.2" fill="#2a7db8"/>
<rect x="306.3" y="462.2" width="51.4" height="22.4" rx="3" ry="3" fill="#b0262a" stroke="#6a1838" stroke-width="1"/>
<text x="332" y="478.0" text-anchor="middle" font-size="14" fill="#fff">29.01</text>
<rect x="390" y="462.2" width="56.8" height="22.4" rx="3" ry="3" fill="#1e88d2" stroke="#2b3f78" stroke-width="1"/>
<text x="418.4" y="478.0" text-anchor="middle" font-size="14.2" fill="#fff">Target</text>
<circle cx="95.2" cy="255.6" r="11.8" fill="#fff" fill-opacity="0.85"/>
<circle cx="235.7" cy="461.5" r="11.5" fill="#fff" fill-opacity="0.85"/>
<circle cx="293.75" cy="345" r="11.6" fill="#fff" fill-opacity="0.85"/>
<circle cx="385" cy="433.75" r="11.6" fill="#fff" fill-opacity="0.85"/>
<circle cx="446.25" cy="282.5" r="11.6" fill="#fff" fill-opacity="0.85"/>
<circle cx="487.9" cy="368.6" r="11.3" fill="#fff" fill-opacity="0.85"/>
<circle cx="497.5" cy="269.25" r="11.6" fill="#fff" fill-opacity="0.85"/>
<circle cx="511.5" cy="357.7" r="11.3" fill="#fff" fill-opacity="0.85"/>
<circle cx="534.2" cy="259.3" r="11.3" fill="#fff" fill-opacity="0.85"/>
<circle cx="547.8" cy="341.6" r="14.8" fill="#fff" fill-opacity="0.85"/>
<circle cx="553" cy="262.4" r="15" fill="#fff" fill-opacity="0.85"/>
<circle cx="95.2" cy="255.6" r="11.8" fill="none" stroke="#000" stroke-width="2"/>
<text x="95.2" y="258.9" text-anchor="middle" font-size="12" fill="#4682b4">1</text>
<circle cx="235.7" cy="461.5" r="11.5" fill="none" stroke="#000" stroke-width="2"/>
<text x="235.7" y="464.8" text-anchor="middle" font-size="12" fill="#4682b4">2</text>
<circle cx="293.75" cy="345" r="11.6" fill="none" stroke="#000" stroke-width="2"/>
<text x="293.75" y="348.3" text-anchor="middle" font-size="12" fill="#4682b4">3</text>
<circle cx="385" cy="433.75" r="11.6" fill="none" stroke="#000" stroke-width="2"/>
<text x="385" y="437.1" text-anchor="middle" font-size="12" fill="#4682b4">4</text>
<circle cx="446.25" cy="282.5" r="11.6" fill="none" stroke="#000" stroke-width="2"/>
<text x="446.25" y="285.8" text-anchor="middle" font-size="12" fill="#4682b4">5</text>
<circle cx="487.9" cy="368.6" r="11.3" fill="none" stroke="#000" stroke-width="2"/>
<text x="487.9" y="371.9" text-anchor="middle" font-size="12" fill="#4682b4">6</text>
<circle cx="497.5" cy="269.25" r="11.6" fill="none" stroke="#000" stroke-width="2"/>
<text x="497.5" y="272.6" text-anchor="middle" font-size="12" fill="#4682b4">7</text>
<circle cx="511.5" cy="357.7" r="11.3" fill="none" stroke="#000" stroke-width="2"/>
<text x="511.5" y="361.0" text-anchor="middle" font-size="12" fill="#4682b4">8</text>
<circle cx="534.2" cy="259.3" r="11.3" fill="none" stroke="#000" stroke-width="2"/>
<text x="534.2" y="262.6" text-anchor="middle" font-size="12" fill="#4682b4">9</text>
<circle cx="547.8" cy="341.6" r="14.8" fill="none" stroke="#000" stroke-width="2"/>
<text x="547.8" y="344.9" text-anchor="middle" font-size="12" fill="#4682b4">10</text>
<circle cx="553" cy="262.4" r="15" fill="none" stroke="#000" stroke-width="2"/>
<text x="553" y="265.7" text-anchor="middle" font-size="12" fill="#4682b4">11</text>
<circle cx="440.3" cy="347.6" r="15.2" fill="#1e84cf" stroke="#1b4f8f" stroke-width="1"/>
<path d="M433.36,343.78 L439.64,343.78 M436.50,342.60 L436.50,345.15 M432.38,345.64 L440.62,345.64 L440.03,347.11 M434.34,346.72 L435.13,347.50 M433.95,347.99 L434.74,348.77 M431.89,349.46 L441.11,349.46 M437.09,346.52 L436.89,349.66 L432.97,352.30 M437.48,350.34 L440.81,352.20" fill="none" stroke="#fff" stroke-width="1.3" stroke-linecap="square"/>
<text x="443.0" y="352.2" font-size="12.5" fill="#fff">1</text>
<text x="252.3" y="326" font-size="21.5" font-weight="bold" font-style="italic" fill="#2a84c8">H</text>
<text x="539.5" y="358.5" font-size="18" font-weight="bold" font-style="italic" fill="#2a84c8">H</text>
<line x1="236" y1="362.2" x2="790" y2="211.8" stroke="#6b8e23" stroke-width="3" stroke-linecap="round"/>
<line x1="236" y1="459.5" x2="790" y2="211.8" stroke="#6b8e23" stroke-width="3" stroke-linecap="round"/>
<circle cx="568.4" cy="312.6" r="8.0" fill="none" stroke="#1f84c8" stroke-width="3.6"/>
<circle cx="569.4" cy="313.2" r="4.2" fill="#151520" opacity="0.85"/>
</svg></body></html>
